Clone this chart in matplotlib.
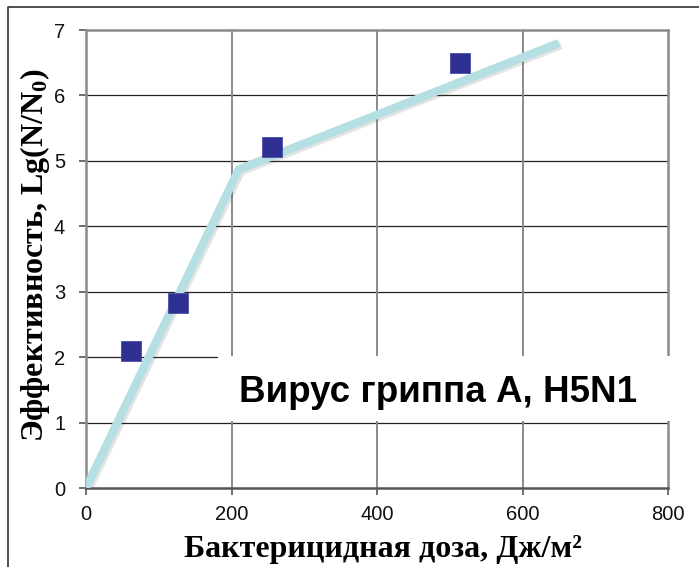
import matplotlib
matplotlib.use("Agg")
import matplotlib.pyplot as plt
import matplotlib.patheffects as pe
from matplotlib.patches import Rectangle
from matplotlib.lines import Line2D

# Measured points and the two-segment fit
dose_pts = [62, 126, 255, 514]
eff_pts = [2.1, 2.83, 5.21, 6.5]
fit_dose = [0, 210, 650]
fit_eff = [0, 4.87, 6.8]

x_ticks = [0, 200, 400, 600, 800]
y_ticks = [0, 1, 2, 3, 4, 5, 6, 7]

title = "Вирус гриппа А, H5N1"
x_label = "Бактерицидная доза, Дж/м²"
y_label = "Эффективность, Lg(N/N$\\mathregular{_0}$)"

plt.rcParams["font.family"] = ["Liberation Sans", "DejaVu Sans"]

fig = plt.figure(figsize=(6.99, 5.67), dpi=100)
ax = fig.add_axes([86 / 699, 1 - 488 / 567, 582 / 699, 458 / 567])

ax.set_xlim(0, 800)
ax.set_ylim(0, 7)
ax.set_xticks(x_ticks)
ax.set_yticks(y_ticks)

# grid: dark horizontal lines, grey vertical ones
for y in y_ticks[1:-1]:
    ax.axhline(y, color="#222222", lw=0.9, zorder=1)
for x in x_ticks[1:-1]:
    ax.axvline(x, color="#8a8a8a", lw=1.4, zorder=1)

for side in ["left", "right", "top", "bottom"]:
    ax.spines[side].set_color("#8a8a8a")
    ax.spines[side].set_linewidth(1.8)
ax.spines["bottom"].set_color("#555555")

ax.tick_params(axis="both", length=5, width=1.2, color="#555555",
               labelsize=14.5, labelcolor="#111111")
ax.tick_params(axis="y", pad=10)
ax.tick_params(axis="x", pad=7)

ax.plot(fit_dose, fit_eff, color="#b5dfe3", lw=6, solid_capstyle="butt",
        solid_joinstyle="miter", zorder=3,
        path_effects=[pe.SimpleLineShadow(offset=(1.5, -1.5), alpha=0.15,
                                          shadow_color="#444444"),
                      pe.Normal()])
ax.plot(dose_pts, eff_pts, ls="none", marker="s", ms=14,
        mfc="#2e3192", mec="#4a4da8", mew=0.6, zorder=4)

# white label box over the lower right of the plot
fig.patches.append(Rectangle((218 / 699, 1 - 421 / 567), 481 / 699, 65 / 567,
                             transform=fig.transFigure, facecolor="white",
                             edgecolor="none", zorder=5))
fig.text(438 / 699, 1 - 393 / 567, title, fontsize=26.5, fontweight="bold",
         ha="center", va="center", zorder=6)

serif = ["Liberation Serif", "DejaVu Serif"]
fig.text(383 / 699, 1 - 549 / 567, x_label, family=serif, fontsize=23,
         fontweight="bold", ha="center", va="center")
fig.text(35 / 699, 1 - 255 / 567, y_label, family=serif, fontsize=23,
         fontweight="bold", ha="center", va="center", rotation=90)

# outer frame (left and top edges)
fig.lines.append(Line2D([8 / 699, 8 / 699, 1], [0, 1 - 7 / 567, 1 - 7 / 567],
                        transform=fig.transFigure, color="#333333", lw=1.2))

fig.savefig("out.png", dpi=100)
